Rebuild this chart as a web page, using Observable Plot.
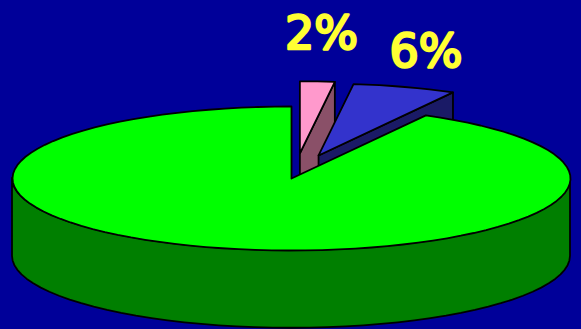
<!DOCTYPE html>
<html>
<head>
<meta charset="utf-8">
<style>html,body{margin:0;padding:0;background:#000099;overflow:hidden}svg{display:block}</style>
<script src="https://cdn.jsdelivr.net/npm/d3@7"></script>
<script src="https://cdn.jsdelivr.net/npm/@observablehq/plot@0.6"></script>
</head>
<body>
<script>
// Data
const labels = ["2%", "6%"];
const shares = [2, 6, 92];
// Exploded offsets of the small slices and label anchors, in pie units
const offsetX = [0.03, 0.097, 0];
const offsetY = [0.35, 0.32, 0];
const labelX = [0.1075, 0.482];
const labelY = [1.80, 1.55];
const depth = 1.08;

const topFill = ["#ff99cc", "#3333cc", "#00ff00"];
const sideFill = ["#8a5068", "#1a1a66", "#007f00"];

const cum = d3.cumsum(shares);
const angle = s => s / 100 * 2 * Math.PI;
function arc(i, n) {
  const a0 = angle(i ? cum[i - 1] : 0), a1 = angle(cum[i]);
  return d3.range(n + 1).map(k => {
    const t = a0 + (a1 - a0) * k / n;
    return {x: Math.sin(t) + offsetX[i], y: Math.cos(t) + offsetY[i]};
  });
}
function sector(i, n) {
  const c = {x: offsetX[i], y: offsetY[i]};
  return [c, ...arc(i, n), c];
}
// The cut face that shows: from the apex to the far corner, extruded downward
function cutFace(i) {
  const c = {x: offsetX[i], y: offsetY[i]};
  const e = arc(i, 1)[1];
  return [c, e, {x: e.x, y: e.y - depth}, {x: c.x, y: c.y - depth}, c];
}
// Front wall of the big slice
const wall = d3.range(0, 49).map(k => {
  const t = Math.PI / 2 + Math.PI * k / 48;
  return {x: Math.sin(t), y1: Math.cos(t), y2: Math.cos(t) - depth};
});

const line = {x: "x", y: "y", stroke: "#000", strokeWidth: 1.8, strokeLinejoin: "round", curve: "linear"};

const plot = Plot.plot({
  width: 581,
  height: 329,
  margin: 0,
  x: {axis: null, domain: [-291 / 279, 290 / 279], range: [0, 581]},
  y: {axis: null, domain: [178 / 72, -151 / 72], range: [0, 329]},
  style: {background: "#000099"},
  marks: [
    Plot.line(cutFace(0), {...line, fill: sideFill[0]}),
    Plot.line(sector(0, 2), {...line, fill: topFill[0]}),
    Plot.line(cutFace(1), {...line, fill: sideFill[1]}),
    Plot.line(sector(1, 8), {...line, fill: topFill[1]}),
    Plot.areaY(wall, {x: "x", y1: "y1", y2: "y2", fill: sideFill[2], stroke: "#000", strokeWidth: 1.8}),
    Plot.line(sector(2, 96), {...line, fill: topFill[2]}),
    Plot.text(labels, {
      x: (d, i) => labelX[i],
      y: (d, i) => labelY[i],
      text: d => d,
      fontFamily: "DejaVu Sans",
      fontSize: 46,
      fill: "#ffff33",
      stroke: "#ffff33",
      strokeWidth: 2.5,
      strokeLinejoin: "round",
      textAnchor: "middle",
      lineAnchor: "bottom"
    })
  ]
});
document.body.appendChild(plot);
</script>
</body>
</html>
